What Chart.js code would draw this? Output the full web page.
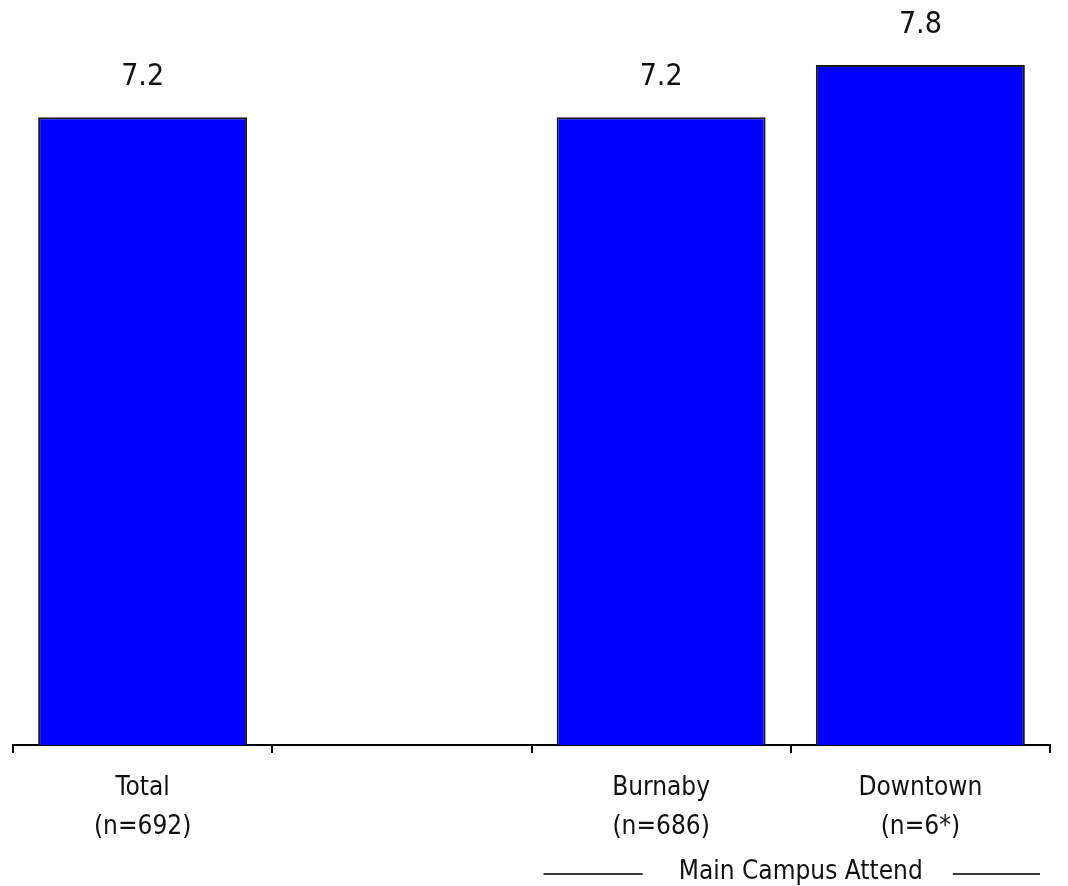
<!DOCTYPE html>
<html>
<head>
<meta charset="utf-8">
<script src="https://cdn.jsdelivr.net/npm/chart.js@4/dist/chart.umd.min.js"></script>
<style>
  html, body { margin: 0; padding: 0; background: #fff; }
  #wrap { width: 1068px; height: 886px; position: relative; }
</style>
</head>
<body>
<div id="wrap"><canvas id="c" width="1068" height="886"></canvas></div>
<script>
const categories = ["Total", "", "Burnaby", "Downtown"];
const sampleSizes = ["(n=692)", "", "(n=686)", "(n=6*)"];
const values = [7.2, null, 7.2, 7.8];
const groupLabel = "Main Campus Attend";
const groupFirst = 2;
const groupLast = 3;

const FONT = "'DejaVu Sans Condensed', 'DejaVu Sans', sans-serif";

const valueLabels = {
  id: 'valueLabels',
  afterDatasetsDraw(chart) {
    const ctx = chart.ctx;
    const meta = chart.getDatasetMeta(0);
    ctx.save();
    ctx.font = "30px " + FONT;
    ctx.fillStyle = '#111';
    ctx.textAlign = 'center';
    ctx.textBaseline = 'alphabetic';
    meta.data.forEach((bar, i) => {
      const v = values[i];
      if (v === null || v === undefined) return;
      ctx.fillText(v.toFixed(1), bar.x, bar.y - 32);
    });
    ctx.restore();
  }
};

const groupBracket = {
  id: 'groupBracket',
  afterDraw(chart) {
    const ctx = chart.ctx;
    const xs = chart.scales.x;
    const half = (xs.getPixelForValue(1) - xs.getPixelForValue(0)) / 2;
    const left = xs.getPixelForValue(groupFirst) - half + 12;
    const right = xs.getPixelForValue(groupLast) + half - 10;
    const center = (left + right) / 2 + 9;
    const y = 874;
    ctx.save();
    ctx.font = "26px " + FONT;
    ctx.fillStyle = '#111';
    ctx.textAlign = 'center';
    ctx.textBaseline = 'middle';
    ctx.fillText(groupLabel, center, y - 2);
    const tw = ctx.measureText(groupLabel).width;
    ctx.strokeStyle = '#000';
    ctx.lineWidth = 1.5;
    ctx.beginPath();
    ctx.moveTo(left, y);
    ctx.lineTo(center - tw / 2 - 36, y);
    ctx.moveTo(center + tw / 2 + 30, y);
    ctx.lineTo(right, y);
    ctx.stroke();
    ctx.restore();
  }
};

new Chart(document.getElementById('c'), {
  type: 'bar',
  data: {
    labels: categories.map((c, i) => [c, sampleSizes[i]]),
    datasets: [{
      data: values,
      backgroundColor: '#0000FF',
      borderColor: '#1a1a1a',
      borderWidth: 2,
      borderSkipped: 'start',
      categoryPercentage: 1.0,
      barPercentage: 0.806
    }]
  },
  options: {
    responsive: false,
    animation: false,
    layout: { padding: { top: 4, left: 13, right: 18, bottom: 0 } },
    plugins: { legend: { display: false }, tooltip: { enabled: false } },
    scales: {
      y: { display: false, min: 0, max: 8.5 },
      x: {
        offset: true,
        grid: {
          offset: true,
          drawOnChartArea: false,
          drawTicks: true,
          tickLength: 8,
          color: '#000',
          lineWidth: 2
        },
        border: { display: true, color: '#000', width: 2 },
        ticks: {
          color: '#111',
          font: { family: FONT, size: 26, lineHeight: 1.5 },
          padding: 16,
          maxRotation: 0,
          autoSkip: false
        },
        afterFit(scale) { scale.height = 141; }
      }
    }
  },
  plugins: [valueLabels, groupBracket]
});
</script>
</body>
</html>
